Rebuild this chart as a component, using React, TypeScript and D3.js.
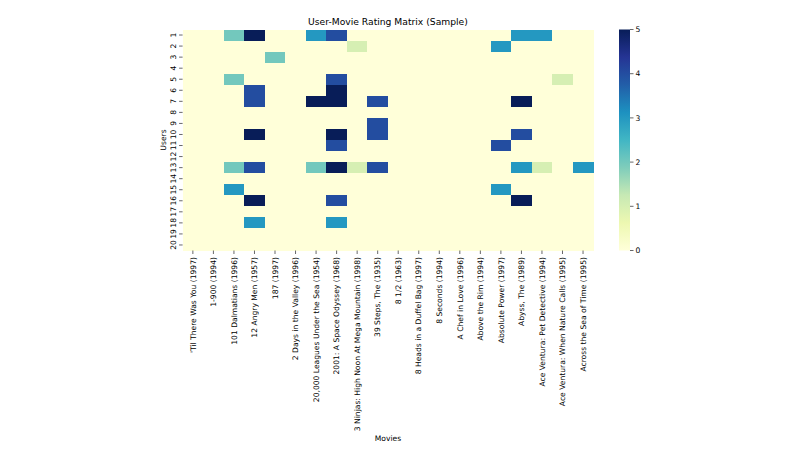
import React from 'react'
import * as d3 from 'd3'

const USERS = d3.range(1, 21).map(String)

const MOVIES = [
  "'Til There Was You (1997)",
  '1-900 (1994)',
  '101 Dalmatians (1996)',
  '12 Angry Men (1957)',
  '187 (1997)',
  '2 Days in the Valley (1996)',
  '20,000 Leagues Under the Sea (1954)',
  '2001: A Space Odyssey (1968)',
  '3 Ninjas: High Noon At Mega Mountain (1998)',
  '39 Steps, The (1935)',
  '8 1/2 (1963)',
  '8 Heads in a Duffel Bag (1997)',
  '8 Seconds (1994)',
  'A Chef in Love (1996)',
  'Above the Rim (1994)',
  'Absolute Power (1997)',
  'Abyss, The (1989)',
  'Ace Ventura: Pet Detective (1994)',
  'Ace Ventura: When Nature Calls (1995)',
  'Across the Sea of Time (1995)',
]

// ratings[user][movie], 0 = not rated
const RATINGS = [
  [0, 0, 2, 5, 0, 0, 3, 4, 0, 0, 0, 0, 0, 0, 0, 0, 3, 3, 0, 0],
  [0, 0, 0, 0, 0, 0, 0, 0, 1, 0, 0, 0, 0, 0, 0, 3, 0, 0, 0, 0],
  [0, 0, 0, 0, 2, 0, 0, 0, 0, 0, 0, 0, 0, 0, 0, 0, 0, 0, 0, 0],
  [0, 0, 0, 0, 0, 0, 0, 0, 0, 0, 0, 0, 0, 0, 0, 0, 0, 0, 0, 0],
  [0, 0, 2, 0, 0, 0, 0, 4, 0, 0, 0, 0, 0, 0, 0, 0, 0, 0, 1, 0],
  [0, 0, 0, 4, 0, 0, 0, 5, 0, 0, 0, 0, 0, 0, 0, 0, 0, 0, 0, 0],
  [0, 0, 0, 4, 0, 0, 5, 5, 0, 4, 0, 0, 0, 0, 0, 0, 5, 0, 0, 0],
  [0, 0, 0, 0, 0, 0, 0, 0, 0, 0, 0, 0, 0, 0, 0, 0, 0, 0, 0, 0],
  [0, 0, 0, 0, 0, 0, 0, 0, 0, 4, 0, 0, 0, 0, 0, 0, 0, 0, 0, 0],
  [0, 0, 0, 5, 0, 0, 0, 5, 0, 4, 0, 0, 0, 0, 0, 0, 4, 0, 0, 0],
  [0, 0, 0, 0, 0, 0, 0, 4, 0, 0, 0, 0, 0, 0, 0, 4, 0, 0, 0, 0],
  [0, 0, 0, 0, 0, 0, 0, 0, 0, 0, 0, 0, 0, 0, 0, 0, 0, 0, 0, 0],
  [0, 0, 2, 4, 0, 0, 2, 5, 1, 4, 0, 0, 0, 0, 0, 0, 3, 1, 0, 3],
  [0, 0, 0, 0, 0, 0, 0, 0, 0, 0, 0, 0, 0, 0, 0, 0, 0, 0, 0, 0],
  [0, 0, 3, 0, 0, 0, 0, 0, 0, 0, 0, 0, 0, 0, 0, 3, 0, 0, 0, 0],
  [0, 0, 0, 5, 0, 0, 0, 4, 0, 0, 0, 0, 0, 0, 0, 0, 5, 0, 0, 0],
  [0, 0, 0, 0, 0, 0, 0, 0, 0, 0, 0, 0, 0, 0, 0, 0, 0, 0, 0, 0],
  [0, 0, 0, 3, 0, 0, 0, 3, 0, 0, 0, 0, 0, 0, 0, 0, 0, 0, 0, 0],
  [0, 0, 0, 0, 0, 0, 0, 0, 0, 0, 0, 0, 0, 0, 0, 0, 0, 0, 0, 0],
  [0, 0, 0, 0, 0, 0, 0, 0, 0, 0, 0, 0, 0, 0, 0, 0, 0, 0, 0, 0],
]

const CBAR_TICKS = [0, 1, 2, 3, 4, 5]

// matplotlib YlGnBu
const YLGNBU = ['#ffffd9', '#edf8b1', '#c7e9b4', '#7fcdbb', '#41b6c4', '#1d91c0', '#225ea8', '#253494', '#081d58']

const W = 800
const H = 460
const plot = { left: 182.6, right: 593.3, top: 29.5, bottom: 250.5 }
const cbar = { left: 619, width: 11 }
const FONT = "'DejaVu Sans', sans-serif"
const TICK_FS = 7.6
const LABEL_FS = 7.6
const TITLE_FS = 9.2

export default function App() {
  const x = d3.scaleBand().domain(MOVIES).range([plot.left, plot.right])
  const y = d3.scaleBand().domain(USERS).range([plot.top, plot.bottom])
  const color = d3
    .scaleLinear<string>()
    .domain(YLGNBU.map((_, i) => (i / (YLGNBU.length - 1)) * 5))
    .range(YLGNBU)
    .interpolate(d3.interpolateRgb)
  const cy = d3.scaleLinear().domain([0, 5]).range([plot.bottom, plot.top])

  const cells = RATINGS.flatMap((row, i) => row.map((v, j) => ({ user: USERS[i], movie: MOVIES[j], v })))

  return (
    <div style={{ position: 'absolute', left: 0, top: 0 }}>
      <svg width={W} height={H} style={{ display: 'block', background: '#fff', fontFamily: FONT }}>
        <defs>
          <linearGradient id="cbar" x1="0" y1="1" x2="0" y2="0">
            {YLGNBU.map((c, i) => (
              <stop key={i} offset={i / (YLGNBU.length - 1)} stopColor={c} />
            ))}
          </linearGradient>
        </defs>

        <text x={(plot.left + plot.right) / 2} y={24.5} textAnchor="middle" fontSize={TITLE_FS} fill="#000">
          User-Movie Rating Matrix (Sample)
        </text>

        <g shapeRendering="crispEdges">
          {cells.map((d) => (
            <rect
              key={d.user + '|' + d.movie}
              x={x(d.movie)}
              y={y(d.user)}
              width={x.bandwidth() + 0.3}
              height={y.bandwidth() + 0.3}
              fill={color(d.v)}
            />
          ))}
        </g>

        {/* y axis */}
        {USERS.map((u) => {
          const cyy = (y(u) ?? 0) + y.bandwidth() / 2
          return (
            <g key={u}>
              <line x1={plot.left - 3.5} x2={plot.left} y1={cyy} y2={cyy} stroke="#000" strokeWidth={0.6} />
              <text
                transform={`translate(${plot.left - 7},${cyy}) rotate(-90)`}
                textAnchor="middle"
                fontSize={TICK_FS}
                fill="#000"
              >
                {u}
              </text>
            </g>
          )
        })}
        <text transform={`translate(166,${(plot.top + plot.bottom) / 2}) rotate(-90)`} textAnchor="middle" fontSize={LABEL_FS} fill="#000">
          Users
        </text>

        {/* x axis */}
        {MOVIES.map((m) => {
          const cx = (x(m) ?? 0) + x.bandwidth() / 2
          return (
            <g key={m}>
              <line x1={cx} x2={cx} y1={plot.bottom} y2={plot.bottom + 3.5} stroke="#000" strokeWidth={0.6} />
              <text
                transform={`translate(${cx + 2.7},${plot.bottom + 6.5}) rotate(-90)`}
                textAnchor="end"
                fontSize={TICK_FS}
                fill="#000"
              >
                {m}
              </text>
            </g>
          )
        })}
        <text x={(plot.left + plot.right) / 2} y={441} textAnchor="middle" fontSize={LABEL_FS} fill="#000">
          Movies
        </text>

        {/* colorbar */}
        <rect x={cbar.left} y={plot.top} width={cbar.width} height={plot.bottom - plot.top} fill="url(#cbar)" />
        {CBAR_TICKS.map((t) => (
          <g key={t}>
            <line x1={cbar.left + cbar.width} x2={cbar.left + cbar.width + 3.5} y1={cy(t)} y2={cy(t)} stroke="#000" strokeWidth={0.6} />
            <text x={cbar.left + cbar.width + 5.5} y={cy(t)} dy="0.35em" fontSize={TICK_FS} fill="#000">
              {t}
            </text>
          </g>
        ))}
      </svg>
    </div>
  )
}
